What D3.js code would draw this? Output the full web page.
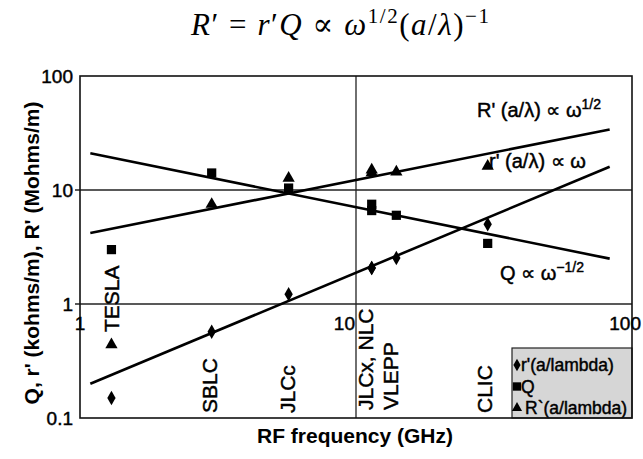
<!DOCTYPE html>
<html>
<head>
<meta charset="utf-8">
<script src="https://cdn.jsdelivr.net/npm/d3@7"></script>
<style>
  body { margin: 0; background: #fff; }
  svg { display: block; }
  text { font-family: "Liberation Sans", Arial, sans-serif; fill: #000; }
  .scan { stroke: #000; stroke-width: 0.45px; }
</style>
</head>
<body>
<script>
// machines and RF frequency (GHz)
const machines = ['TESLA', 'SBLC', 'JLCc', 'JLCx', 'NLC', 'VLEPP', 'CLIC']
const freqs = [1.3, 3.0, 5.7, 11.4, 11.4, 14, 30]

// values
const rPrime = [0.15, 0.57, 1.22, 2.07, 2.07, 2.53, 5.0]      // r'(a/lambda)
const qVals = [3.0, 14.1, 10.4, 7.5, 6.6, 6.0, 3.4]          // Q
const bigR = [0.44, 7.5, 12.7, 15.0, 14.2, 14.4, 16.2]      // R'(a/lambda)

// fitted scaling lines (endpoints)
const lineFreqs = [1.09, 83]
const fitR = [4.2, 34]
const fitQ = [21, 2.5]
const fitr = [0.2, 16]

const yTicks = [0.1, 1, 10, 100]
const xTicks = [1, 10, 100]
const gridY = [1, 10]
const gridX = [10]

const machineLabels = ['TESLA', 'SBLC', 'JLCc', 'JLCx, NLC', 'VLEPP', 'CLIC']
const machineLabelFreqs = [1.3, 3.0, 5.7, 11.4, 14, 30]

const w = 643
const h = 459

const svg = d3.select('body')
    .append('svg')
    .attr('width', w)
    .attr('height', h)

const xScale = d3.scaleLog()
    .domain([1, 100])
    .range([80, 632])

const yScale = d3.scaleLog()
    .domain([0.1, 100])
    .range([418, 76])

// title
const title = svg.append('text')
    .attr('x', 340)
    .attr('y', 35)
    .attr('text-anchor', 'middle')
    .attr('textLength', 298)
    .attr('lengthAdjust', 'spacing')
    .style('font-family', '"Liberation Serif", "DejaVu Serif", serif')
    .style('font-size', '31px')
title.append('tspan').style('font-style', 'italic').text('R')
title.append('tspan').text('\u2032 = ')
title.append('tspan').style('font-style', 'italic').text('r')
title.append('tspan').text('\u2032')
title.append('tspan').style('font-style', 'italic').text('Q')
title.append('tspan').text(' \u221D ')
title.append('tspan').style('font-style', 'italic').text('\u03C9')
title.append('tspan').attr('dy', -12).style('font-size', '21px').text('1/2')
title.append('tspan').attr('dy', 12).text('(')
title.append('tspan').style('font-style', 'italic').text('a')
title.append('tspan').text('/')
title.append('tspan').style('font-style', 'italic').text('\u03BB')
title.append('tspan').text(')')
title.append('tspan').attr('dy', -12).style('font-size', '21px').text('\u22121')

// grid
svg.selectAll('.gy')
    .data(gridY)
    .enter()
    .append('line')
    .attr('x1', 75)
    .attr('x2', 632)
    .attr('y1', d => yScale(d))
    .attr('y2', d => yScale(d))
    .attr('stroke', '#222')
    .attr('stroke-width', 1.3)

svg.selectAll('.gx')
    .data(gridX)
    .enter()
    .append('line')
    .attr('x1', d => xScale(d))
    .attr('x2', d => xScale(d))
    .attr('y1', 76)
    .attr('y2', 418)
    .attr('stroke', '#222')
    .attr('stroke-width', 1.3)

// legend box (drawn before the frame)
const legend = svg.append('g')
legend.append('rect')
    .attr('x', 512)
    .attr('y', 348)
    .attr('width', 120)
    .attr('height', 70)
    .attr('fill', '#d6d6d6')
    .attr('stroke', '#222')
    .attr('stroke-width', 1.2)

// frame
svg.append('rect')
    .attr('x', 80)
    .attr('y', 76)
    .attr('width', 552)
    .attr('height', 342)
    .attr('fill', 'none')
    .attr('stroke', '#111')
    .attr('stroke-width', 1.6)

// y tick labels
svg.selectAll('.ytl')
    .data(yTicks)
    .enter()
    .append('text')
    .attr('class', 'scan')
    .attr('x', 73)
    .attr('y', d => yScale(d))
    .attr('dy', '0.35em')
    .attr('text-anchor', 'end')
    .style('font-size', '19px')
    .text(d => d)

// x tick labels (sit just under the y=1 grid line)
svg.selectAll('.xtl')
    .data(xTicks)
    .enter()
    .append('text')
    .attr('class', 'scan')
    .attr('x', d => d == 10 ? xScale(d) - 1 : (d == 100 ? 641 : xScale(d)))
    .attr('y', yScale(1) + 19)
    .attr('dy', '0.35em')
    .attr('text-anchor', d => d == 1 ? 'middle' : 'end')
    .style('font-size', '19px')
    .text(d => d)

// fitted lines
const line = d3.line()
    .x(d => xScale(d[0]))
    .y(d => yScale(d[1]))

const fits = [fitR, fitQ, fitr]
svg.selectAll('.fit')
    .data(fits)
    .enter()
    .append('path')
    .attr('d', d => line(lineFreqs.map((f, i) => [f, d[i]])))
    .attr('fill', 'none')
    .attr('stroke', '#000')
    .attr('stroke-width', 2.6)

// markers
const series = [
    {vals: rPrime, sym: d3.symbolDiamond, size: 60},
    {vals: qVals, sym: d3.symbolSquare, size: 85},
    {vals: bigR, sym: d3.symbolTriangle, size: 65}
]

series.forEach(s => {
    svg.selectAll(null)
        .data(s.vals.map((v, i) => ({f: freqs[i], v: v})))
        .enter()
        .append('path')
        .attr('d', d3.symbol().type(s.sym).size(s.size))
        .attr('transform', d => 'translate(' + xScale(d.f) + ',' + yScale(d.v) + ')')
        .attr('fill', '#000')
})

// machine names, rotated
const labelShift = [0, -2, -1, -6, -6, -3]
const labelBottom = [332, 413, 413, 410, 410, 413]
svg.selectAll('.mlab')
    .data(machineLabels)
    .enter()
    .append('text')
    .attr('class', 'scan')
    .attr('transform', (d, i) => 'translate(' + (xScale(machineLabelFreqs[i]) + labelShift[i]) + ',' + labelBottom[i] + ') rotate(-90)')
    .attr('dy', '0.36em')
    .style('font-size', '21px')
    .text(d => d)

// annotations
svg.append('text')
    .attr('class', 'scan')
    .attr('x', 477)
    .attr('y', 117)
    .style('font-size', '20px')
    .html('R\' (a/\u03BB) \u221D \u03C9<tspan dy="-8" font-size="14px">1/2</tspan>')

svg.append('text')
    .attr('class', 'scan')
    .attr('x', 489)
    .attr('y', 168)
    .style('font-size', '20px')
    .text('r\' (a/\u03BB) \u221D \u03C9')

svg.append('text')
    .attr('class', 'scan')
    .attr('x', 500)
    .attr('y', 280)
    .style('font-size', '20px')
    .html('Q \u221D \u03C9<tspan dy="-8" font-size="14px">\u22121/2</tspan>')

// legend entries
const legendNames = ['r\'(a/lambda)', 'Q', 'R`(a/lambda)']
const legendSyms = [d3.symbolDiamond, d3.symbolSquare, d3.symbolTriangle]
legendNames.forEach((name, i) => {
    const yy = 365 + i * 21.5
    legend.append('path')
        .attr('d', d3.symbol().type(legendSyms[i]).size(i == 1 ? 70 : 45))
        .attr('transform', 'translate(' + 517 + ',' + yy + ')')
        .attr('fill', '#000')
    legend.append('text')
        .attr('class', 'scan')
        .attr('x', i == 2 ? 525 : 521)
        .attr('y', yy)
        .attr('dy', '0.36em')
        .style('font-size', '17.5px')
        .text(name)
})

// axis titles
svg.append('text')
    .attr('x', 355)
    .attr('y', 443)
    .attr('text-anchor', 'middle')
    .style('font-size', '21px')
    .style('font-weight', 'bold')
    .text('RF frequency (GHz)')

svg.append('text')
    .attr('transform', 'translate(31,253) rotate(-90)')
    .attr('text-anchor', 'middle')
    .attr('dy', '0.36em')
    .style('font-size', '21px')
    .style('font-weight', 'bold')
    .text('Q, r\' (kohms/m), R\' (Mohms/m)')
</script>
</body>
</html>
